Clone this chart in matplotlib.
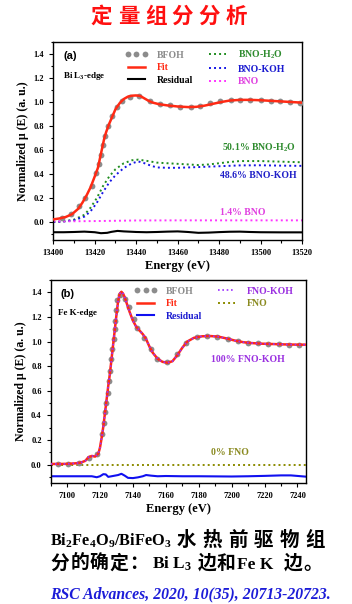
"""XANES linear-combination fits: Bi L3-edge and Fe K-edge of the BFOH precursor."""
import numpy as np
import matplotlib
matplotlib.use("Agg")
import matplotlib.pyplot as plt
from matplotlib.ticker import MultipleLocator

# ---------------------------------------------------------------
# (a) Bi L3-edge
# ---------------------------------------------------------------
bi_dots_e = [13404, 13408.5, 13412.5, 13415.5, 13418.5, 13420.8, 13422.2, 13423.0,
             13424.0, 13425.0, 13426.5, 13428.2, 13430.5, 13433.0, 13437.0, 13441.5,
             13446.5, 13451.5, 13456.5, 13461.3, 13466.2, 13471.0, 13475.8, 13480.6,
             13485.5, 13490.3, 13495.0, 13500.0, 13504.8, 13509.6, 13514.4, 13519.2]
bi_dots_mu = [0.033, 0.068, 0.13, 0.20, 0.30, 0.41, 0.48, 0.56,
              0.64, 0.72, 0.80, 0.88, 0.96, 1.01, 1.04, 1.05,
              1.005, 0.985, 0.972, 0.96, 0.957, 0.968, 0.99, 1.005,
              1.015, 1.017, 1.016, 1.013, 1.01, 1.006, 1.0, 0.994]

bi_fit_e = [13400, 13403, 13406, 13409, 13412, 13414, 13416, 13418, 13420, 13421.5,
            13422.5, 13423.5, 13424.5, 13425.5, 13427, 13428.5, 13430, 13432, 13434,
            13436, 13438, 13440, 13442, 13444, 13446, 13448, 13451, 13455, 13460,
            13465, 13469, 13473, 13477, 13481, 13485, 13490, 13495, 13500, 13505,
            13510, 13515, 13520]
bi_fit_mu = [0.022, 0.03, 0.042, 0.065, 0.11, 0.16, 0.22, 0.29, 0.38, 0.45,
             0.53, 0.61, 0.69, 0.75, 0.82, 0.88, 0.94, 0.99, 1.025,
             1.045, 1.053, 1.055, 1.05, 1.03, 1.01, 0.995, 0.982, 0.972, 0.963,
             0.958, 0.96, 0.97, 0.985, 1.0, 1.012, 1.018, 1.018, 1.015, 1.01,
             1.005, 1.0, 0.995]

bi_res_e = [13400, 13405, 13410, 13415, 13420, 13423, 13426, 13428, 13431, 13434,
            13440, 13445, 13450, 13455, 13460, 13465, 13470, 13475, 13480, 13485,
            13490, 13495, 13500, 13510, 13520]
bi_res_mu = [-0.085, -0.085, -0.083, -0.08, -0.085, -0.093, -0.09, -0.082, -0.074, -0.078,
             -0.083, -0.085, -0.083, -0.08, -0.078, -0.083, -0.09, -0.088, -0.084, -0.081,
             -0.08, -0.083, -0.085, -0.086, -0.086]

bno_h2o_e = [13400, 13405, 13410, 13415, 13418, 13421, 13424, 13427, 13430, 13434,
             13438, 13441, 13445, 13450, 13455, 13460, 13465, 13470, 13475, 13480,
             13485, 13490, 13500, 13510, 13520]
bno_h2o_mu = [0.0, 0.005, 0.02, 0.06, 0.12, 0.20, 0.30, 0.38, 0.44, 0.49,
              0.515, 0.52, 0.51, 0.495, 0.49, 0.485, 0.48, 0.475, 0.48, 0.49,
              0.50, 0.508, 0.508, 0.503, 0.498]

bno_koh_e = [13400, 13405, 13410, 13415, 13418, 13421, 13424, 13427, 13430, 13434,
             13438, 13441, 13444, 13447, 13450, 13455, 13460, 13465, 13470, 13480,
             13490, 13500, 13510, 13520]
bno_koh_mu = [0.0, 0.005, 0.015, 0.045, 0.09, 0.16, 0.25, 0.33, 0.39, 0.45,
              0.49, 0.505, 0.49, 0.47, 0.455, 0.452, 0.452, 0.455, 0.458, 0.465,
              0.472, 0.473, 0.47, 0.468]

bno_e = [13400, 13420, 13440, 13460, 13480, 13500, 13520]
bno_mu = [0.005, 0.008, 0.013, 0.014, 0.014, 0.014, 0.014]

# ---------------------------------------------------------------
# (b) Fe K-edge
# ---------------------------------------------------------------
fe_dots_e = [7094.5, 7100.5, 7107, 7113, 7118, 7121.2, 7122.2, 7123.2, 7123.8, 7124.6,
             7125.2, 7126.2, 7126.8, 7127.5, 7128.3, 7128.9, 7129.3, 7129.9, 7130.6,
             7132.3, 7135.3, 7137.3, 7140.4, 7142.4, 7146.8, 7150.9, 7154.5, 7161,
             7167, 7172, 7178.8, 7184.8, 7191.3, 7197.6, 7203.6, 7210, 7216, 7222,
             7228.7, 7235, 7241]
fe_dots_mu = [0.005, 0.008, 0.012, 0.055, 0.085, 0.25, 0.34, 0.43, 0.50, 0.585,
              0.68, 0.76, 0.86, 0.94, 1.02, 1.10, 1.17, 1.26, 1.34,
              1.38, 1.35, 1.28, 1.18, 1.11, 1.03, 0.94, 0.86, 0.835,
              0.90, 0.99, 1.035, 1.045, 1.04, 1.02, 1.005, 0.99, 0.985, 0.983,
              0.98, 0.975, 0.975]

fe_fit_e = [7090, 7095, 7100, 7105, 7108, 7111, 7113, 7115, 7117, 7119, 7120, 7121,
            7122, 7123, 7124, 7125, 7126, 7127, 7128, 7129, 7130, 7131, 7132, 7133,
            7134, 7135, 7136, 7138, 7140, 7142, 7144, 7146, 7148, 7150, 7152, 7155,
            7158, 7161, 7164, 7167, 7170, 7173, 7177, 7182, 7187, 7192, 7197, 7202,
            7207, 7212, 7218, 7225, 7232, 7240, 7245]
fe_fit_mu = [0.005, 0.005, 0.006, 0.01, 0.015, 0.03, 0.06, 0.07, 0.065, 0.09, 0.14, 0.22,
             0.31, 0.42, 0.53, 0.64, 0.74, 0.86, 0.98, 1.10, 1.22, 1.33, 1.39, 1.405,
             1.39, 1.36, 1.32, 1.24, 1.17, 1.12, 1.09, 1.06, 1.02, 0.96, 0.91, 0.86,
             0.835, 0.828, 0.84, 0.89, 0.95, 1.0, 1.03, 1.043, 1.045, 1.04, 1.025, 1.008,
             0.995, 0.988, 0.983, 0.98, 0.977, 0.975, 0.975]

# 100% FNO-KOH: the component coincides with the fit
fno_koh_mu = fe_fit_mu

fe_res_e = [7090, 7100, 7110, 7115, 7118, 7120, 7122, 7123.5, 7125, 7127, 7129, 7131,
            7133, 7135, 7137, 7140, 7143, 7146, 7148, 7151, 7155, 7160, 7170, 7180,
            7190, 7200, 7210, 7220, 7230, 7236, 7245]
fe_res_mu = [-0.095, -0.095, -0.095, -0.095, -0.103, -0.095, -0.078, -0.08, -0.1, -0.095,
             -0.09, -0.085, -0.075, -0.09, -0.108, -0.11, -0.104, -0.095, -0.085, -0.09,
             -0.095, -0.093, -0.095, -0.095, -0.096, -0.097, -0.095, -0.092, -0.088,
             -0.088, -0.098]

fno_e = [7090, 7245]
fno_mu = [0.0, 0.0]

SERIF = "Liberation Serif"
CJK = "Noto Sans CJK SC"
plt.rcParams["mathtext.default"] = "regular"
plt.rcParams["font.family"] = SERIF
plt.rcParams["font.weight"] = "bold"

DOT = (0, (1, 1.6))
GREY = "#8c8c8c"
RED = "#ff2a14"
W, H = 352.0, 604.0


def style_axes(ax, xlim, xmaj):
    ax.set_xlim(*xlim)
    ax.set_ylim(-0.15, 1.5)
    ax.xaxis.set_major_locator(MultipleLocator(xmaj))
    ax.xaxis.set_minor_locator(MultipleLocator(xmaj / 2))
    ax.yaxis.set_major_locator(MultipleLocator(0.2))
    ax.yaxis.set_minor_locator(MultipleLocator(0.1))
    ax.yaxis.set_major_formatter(matplotlib.ticker.FormatStrFormatter("%.1f"))
    ax.tick_params(which="both", direction="out", top=False, right=False,
                   labelsize=6, width=0.8)
    ax.tick_params(which="major", length=3)
    ax.tick_params(which="minor", length=1.8)
    for lab in ax.get_xticklabels() + ax.get_yticklabels():
        lab.set_fontweight("bold")
    for sp in ax.spines.values():
        sp.set_linewidth(1.0)
    ax.set_xlabel("Energy (eV)", fontsize=9, fontweight="bold", labelpad=2)
    ax.set_ylabel("Normalized μ (E) (a. u.)", fontsize=8.5, fontweight="bold", labelpad=3)


def spaced(fig, text, x0, y, pitch, **kw):
    # one character per slot, x0/y in pixels from top-left
    for i, ch in enumerate(text):
        fig.text((x0 + pitch * (i + 0.5)) / W, 1 - y / H, ch,
                 ha="center", va="baseline", **kw)


fig = plt.figure(figsize=(3.52, 6.04), dpi=100)

# ---------------- panel (a)
ax1 = fig.add_axes([0.1514, 0.6026, 0.7066, 0.3278])
ax1.plot(bno_h2o_e, bno_h2o_mu, ls=DOT, color="#1e8c1e", lw=1.4, label="BNO-H$_2$O")
ax1.plot(bno_koh_e, bno_koh_mu, ls=DOT, color="#1515e6", lw=1.4, label="BNO-KOH")
ax1.plot(bno_e, bno_mu, ls=DOT, color="#ff33ff", lw=1.4, label="BNO")
ax1.plot(bi_res_e, bi_res_mu, color="black", lw=1.5, label="Residual")
ax1.plot(bi_fit_e, bi_fit_mu, color=RED, lw=1.8, label="Fit", zorder=4)
ax1.plot(bi_dots_e, bi_dots_mu, "o", color=GREY, ms=4.2, mec="none", label="BFOH", zorder=3)
style_axes(ax1, (13400, 13520), 20)

h, l = ax1.get_legend_handles_labels()
order = [5, 4, 3, 0, 1, 2]
leg = ax1.legend([h[i] for i in order], [l[i] for i in order], ncol=2, numpoints=3,
                 loc="upper left", bbox_to_anchor=(0.26, 1.0), frameon=False,
                 fontsize=7, handlelength=2.4, handletextpad=0.9, columnspacing=1.3,
                 labelspacing=0.35, borderaxespad=0.3,
                 labelcolor=[GREY, RED, "black", "#2e8b2e", "#1a1ad0", "#e040e0"])
for t in leg.get_texts():
    t.set_fontweight("bold")

ax1.text(0.04, 0.93, "(a)", transform=ax1.transAxes, fontsize=8, fontweight="bold",
         family="Liberation Sans", va="center")
ax1.text(0.04, 0.83, "Bi L$_3$-edge", transform=ax1.transAxes, fontsize=6.5,
         fontweight="bold", va="center")
ax1.text(0.68, 0.465, "50.1% BNO-H$_2$O", transform=ax1.transAxes, fontsize=7,
         fontweight="bold", color="#2e8b2e", va="center")
ax1.text(0.67, 0.325, "48.6% BNO-KOH", transform=ax1.transAxes, fontsize=7,
         fontweight="bold", color="#2020c8", va="center")
ax1.text(0.67, 0.141, "1.4% BNO", transform=ax1.transAxes, fontsize=7,
         fontweight="bold", color="#e040e0", va="center")

# ---------------- panel (b)
ax2 = fig.add_axes([0.144, 0.2003, 0.7244, 0.336])
ax2.plot(fno_e, fno_mu, ls=DOT, color="#8b8b00", lw=1.4, label="FNO")
ax2.plot(fe_res_e, fe_res_mu, color="#1010f0", lw=1.5, label="Residual")
ax2.plot(fe_fit_e, fe_fit_mu, color=RED, lw=1.8, label="Fit", zorder=4)
ax2.plot(fe_fit_e, fno_koh_mu, ls=DOT, color="#9b30ff", lw=1.2, label="FNO-KOH", zorder=5)
ax2.plot(fe_dots_e, fe_dots_mu, "o", color=GREY, ms=4.2, mec="none", label="BFOH", zorder=3)
style_axes(ax2, (7090, 7245), 20)

h, l = ax2.get_legend_handles_labels()
order = [4, 2, 1, 3, 0]
leg2 = ax2.legend([h[i] for i in order], [l[i] for i in order], ncol=2, numpoints=3,
                  loc="upper left", bbox_to_anchor=(0.3, 1.0), frameon=False,
                  fontsize=7, handlelength=2.4, handletextpad=0.9, columnspacing=1.3,
                  labelspacing=0.35, borderaxespad=0.3,
                  labelcolor=[GREY, RED, "#1a1ad0", "#9a30e0", "#8a8a20"])
for t in leg2.get_texts():
    t.set_fontweight("bold")

ax2.text(0.04, 0.93, "(b)", transform=ax2.transAxes, fontsize=8, fontweight="bold",
         family="Liberation Sans", va="center")
ax2.text(0.03, 0.84, "Fe K-edge", transform=ax2.transAxes, fontsize=6.5,
         fontweight="bold", va="center")
ax2.text(0.63, 0.61, "100% FNO-KOH", transform=ax2.transAxes, fontsize=7,
         fontweight="bold", color="#9a30e0", va="center")
ax2.text(0.63, 0.15, "0% FNO", transform=ax2.transAxes, fontsize=7,
         fontweight="bold", color="#8a8a20", va="center")

# ---------------- title and caption
spaced(fig, "定量组分分析", 88, 23, 27, fontsize=15.5, fontweight="bold",
       family=CJK, color="#ff1010")

fig.text(50 / W, 1 - 546 / H, "Bi$_2$Fe$_4$O$_9$/BiFeO$_3$",
         fontsize=11.8, fontweight="bold", family=SERIF, va="baseline")
spaced(fig, "水热前驱物组", 174, 546, 25.7, fontsize=14, fontweight="bold", family=CJK)
spaced(fig, "分的确定：", 50, 569, 19.7, fontsize=13.5, fontweight="bold", family=CJK)
fig.text(152 / W, 1 - 569 / H, "Bi L$_3$", fontsize=12.5, fontweight="bold",
         family=SERIF, va="baseline")
spaced(fig, "边和", 197, 569, 19.5, fontsize=13.5, fontweight="bold", family=CJK)
fig.text(237 / W, 1 - 569 / H, "Fe K", fontsize=12.5, fontweight="bold",
         family=SERIF, va="baseline")
spaced(fig, "边。", 283, 569, 19.5, fontsize=13.5, fontweight="bold", family=CJK)

fig.text(50 / W, 1 - 598 / H, "RSC Advances, 2020, 10(35), 20713-20723.",
         fontsize=11.3, fontweight="bold", style="italic", family=SERIF,
         color="#1c1cd8", va="baseline")

fig.savefig("out.png", dpi=100)
